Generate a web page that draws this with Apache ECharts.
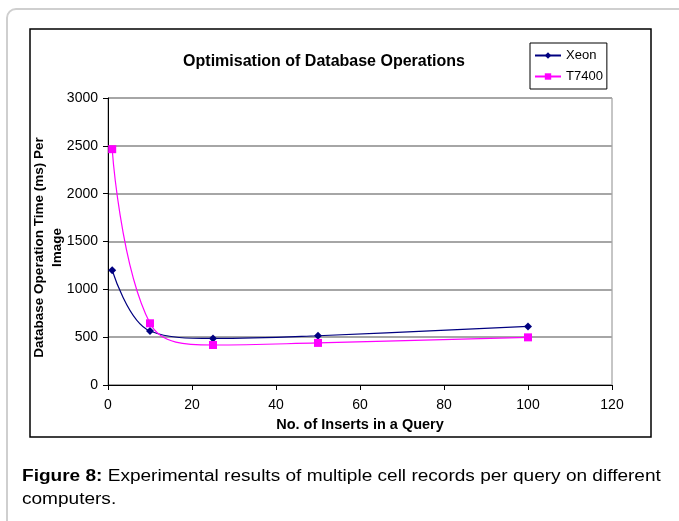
<!DOCTYPE html>
<html>
<head>
<meta charset="utf-8">
<script src="https://cdn.jsdelivr.net/npm/echarts@6/dist/echarts.min.js"></script>
<style>
  html, body { margin: 0; padding: 0; background: #fff; }
  #chart { width: 679px; height: 521px; }
</style>
</head>
<body>
<div id="chart"></div>
<script>
'use strict';

// values
var insertsPerQuery = [1, 10, 25, 50, 100];
var xeonTimes = [1200, 565, 487, 515, 612];
var t7400Times = [2465, 645, 418, 440, 498];
var seriesNames = ['Xeon', 'T7400'];

var FONT = '"Liberation Sans", Arial, sans-serif';

function pairs(xs, ys) {
   return xs.map(function (x, i) { return [x, ys[i]]; });
}

var chart = echarts.init(document.getElementById('chart'));

var option = {
   animation: false,
   backgroundColor: '#fff',
   textStyle: { fontFamily: FONT },
   grid: {
      left: 108, top: 98, right: 67, bottom: 136,
      show: true, borderColor: '#8c8c8c', borderWidth: 1
   },
   legend: {
      left: 530, top: 43,
      orient: 'vertical',
      itemWidth: 26, itemHeight: 8, itemGap: 8,
      padding: [6, 4, 6, 4],
      backgroundColor: '#fff',
      borderColor: '#000', borderWidth: 1,
      borderRadius: 0,
      textStyle: { fontSize: 13, color: '#000', fontFamily: FONT },
      data: seriesNames
   },
   xAxis: {
      type: 'value', min: 0, max: 120, interval: 20,
      name: 'No. of Inserts in a Query',
      nameLocation: 'middle', nameGap: 32,
      nameTextStyle: { fontSize: 14.5, fontWeight: 'bold', color: '#000', fontFamily: FONT },
      axisLine: { lineStyle: { color: '#000', width: 1 } },
      axisTick: { show: true, length: 5, lineStyle: { color: '#000' } },
      axisLabel: { fontSize: 14, color: '#000', margin: 13, fontFamily: FONT },
      splitLine: { show: false }
   },
   yAxis: {
      type: 'value', min: 0, max: 3000, interval: 500,
      name: 'Database Operation Time (ms) Per\nImage',
      nameLocation: 'middle', nameGap: 42, nameRotate: 90,
      nameMoveOverlap: false,
      nameTextStyle: {
         fontSize: 13.5, fontWeight: 'bold', color: '#000', lineHeight: 18,
         fontFamily: FONT, padding: [0, 12, 0, 0]
      },
      axisLine: { show: true, lineStyle: { color: '#000', width: 1 } },
      axisTick: { show: true, length: 5, lineStyle: { color: '#000' } },
      axisLabel: {
         fontSize: 14, color: '#000', margin: 10, fontFamily: FONT,
         formatter: function (v) { return String(v); }
      },
      splitLine: { show: true, lineStyle: { color: '#a6a6a6', width: 2 } }
   },
   series: [
      {
         name: seriesNames[0], type: 'line', smooth: 0.4,
         data: pairs(insertsPerQuery, xeonTimes),
         symbol: 'diamond', symbolSize: 8,
         itemStyle: { color: '#000080' },
         lineStyle: { color: '#000080', width: 1.2 }
      },
      {
         name: seriesNames[1], type: 'line', smooth: 0.4,
         data: pairs(insertsPerQuery, t7400Times),
         symbol: 'rect', symbolSize: 8,
         itemStyle: { color: '#ff00ff' },
         lineStyle: { color: '#ff00ff', width: 1.2 }
      }
   ],
   graphic: [
      {
         type: 'rect', z: -10, silent: true,
         shape: { x: 7, y: 9, width: 720, height: 560, r: 9 },
         style: { fill: null, stroke: '#cfcfcf', lineWidth: 2 }
      },
      {
         type: 'rect', z: -9, silent: true,
         shape: { x: 30, y: 29, width: 621, height: 408 },
         style: { fill: null, stroke: '#000', lineWidth: 1.5 }
      },
      {
         type: 'text', silent: true,
         x: 324, y: 62,
         style: {
            text: 'Optimisation of Database Operations',
            font: 'bold 16px ' + FONT, fill: '#000',
            textAlign: 'center', textVerticalAlign: 'middle'
         }
      },
      {
         // caption is set in a wider face in the original, so stretch it a bit
         type: 'text', silent: true,
         x: 22, y: 488, scaleX: 1.19,
         style: {
            text: '{b|Figure 8:} Experimental results of multiple cell records per query on different\ncomputers.',
            font: '16px ' + FONT, fill: '#000', lineHeight: 23,
            textAlign: 'left', textVerticalAlign: 'middle',
            rich: { b: { fontWeight: 'bold', fontSize: 16, fontFamily: FONT } }
         }
      }
   ]
};

chart.setOption(option);
</script>
</body>
</html>
